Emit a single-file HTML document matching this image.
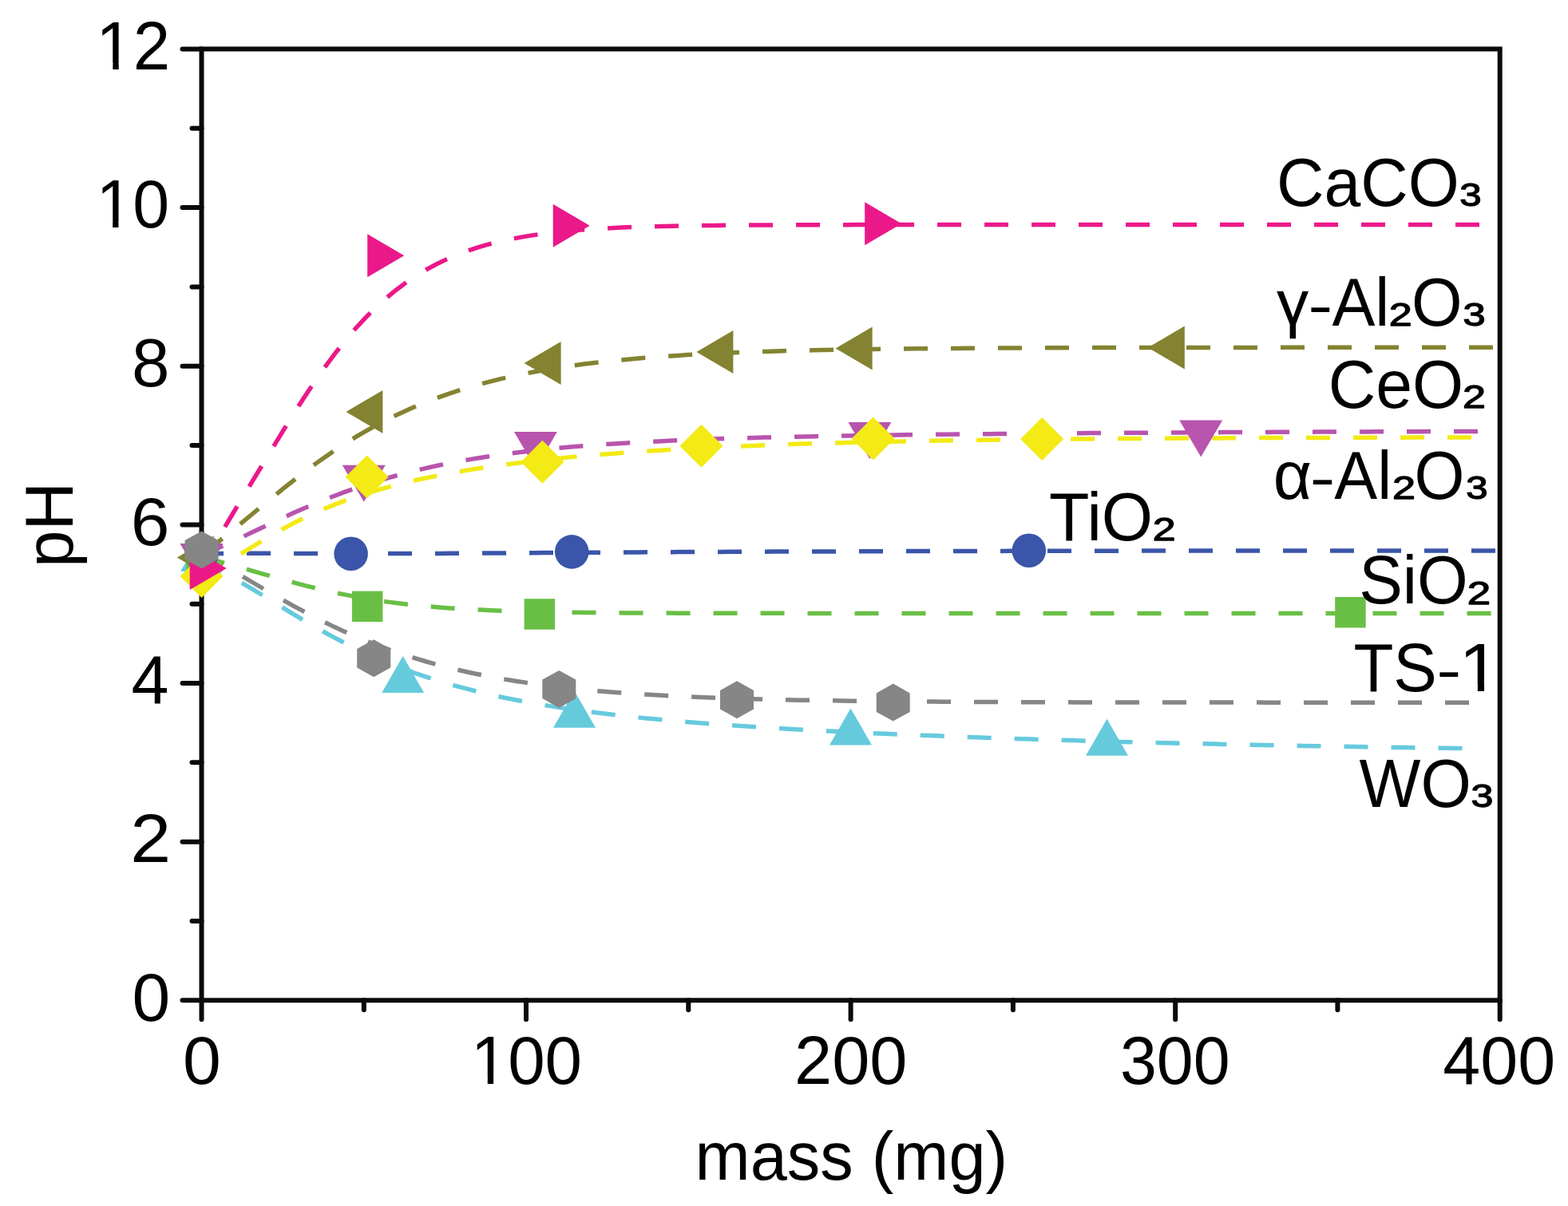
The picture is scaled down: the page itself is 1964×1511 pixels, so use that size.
<!DOCTYPE html><html><head><meta charset="utf-8"><title>pH vs mass</title><style>html,body{margin:0;padding:0;background:#fff;overflow:hidden}svg{display:block;filter:blur(0.7px)}</style></head><body>
<svg width="1964" height="1511" viewBox="0 0 1964 1511" font-family='"Liberation Sans", Arial, Helvetica, sans-serif'>
<rect width="1964" height="1511" fill="#fff"/>
<path d="M252.5,707.0 L265.2,711.4 L277.8,717.0 L290.5,723.4 L303.1,730.4 L315.8,737.8 L328.4,745.5 L341.1,753.3 L353.8,761.1 L366.4,768.8 L379.1,776.4 L391.7,783.8 L404.4,791.0 L417.0,797.9 L429.7,804.5 L442.4,810.8 L455.0,816.9 L467.7,822.6 L480.3,828.1 L493.0,833.2 L505.6,838.1 L518.3,842.8 L531.0,847.1 L543.6,851.2 L556.3,855.1 L568.9,858.8 L581.6,862.2 L594.2,865.5 L606.9,868.6 L619.6,871.4 L632.2,874.2 L644.9,876.7 L657.5,879.2 L670.2,881.4 L682.8,883.6 L695.5,885.6 L708.2,887.6 L720.8,889.4 L733.5,891.1 L746.1,892.8 L758.8,894.3 L771.4,895.8 L784.1,897.2 L796.8,898.6 L809.4,899.9 L822.1,901.1 L834.7,902.3 L847.4,903.4 L860.1,904.5 L872.7,905.5 L885.4,906.5 L898.0,907.4 L910.7,908.3 L923.3,909.2 L936.0,910.1 L948.7,910.9 L961.3,911.7 L974.0,912.5 L986.6,913.2 L999.3,913.9 L1011.9,914.6 L1024.6,915.3 L1037.3,916.0 L1049.9,916.6 L1062.6,917.2 L1075.2,917.8 L1087.9,918.4 L1100.5,919.0 L1113.2,919.5 L1125.9,920.1 L1138.5,920.6 L1151.2,921.1 L1163.8,921.6 L1176.5,922.1 L1189.1,922.6 L1201.8,923.1 L1214.5,923.5 L1227.1,924.0 L1239.8,924.4 L1252.4,924.9 L1265.1,925.3 L1277.7,925.7 L1290.4,926.1 L1303.1,926.5 L1315.7,926.9 L1328.4,927.3 L1341.0,927.6 L1353.7,928.0 L1366.3,928.4 L1379.0,928.7 L1391.7,929.0 L1404.3,929.4 L1417.0,929.7 L1429.6,930.0 L1442.3,930.4 L1454.9,930.7 L1467.6,931.0 L1480.3,931.3 L1492.9,931.6 L1505.6,931.8 L1518.2,932.1 L1530.9,932.4 L1543.5,932.7 L1556.2,932.9 L1568.9,933.2 L1581.5,933.5 L1594.2,933.7 L1606.8,934.0 L1619.5,934.2 L1632.1,934.4 L1644.8,934.7 L1657.5,934.9 L1670.1,935.1 L1682.8,935.3 L1695.4,935.6 L1708.1,935.8 L1720.7,936.0 L1733.4,936.2 L1746.1,936.4 L1758.7,936.6 L1771.4,936.8 L1784.0,937.0 L1796.7,937.1 L1809.3,937.3 L1822.0,937.5 L1831.5,937.6" fill="none" stroke="#66CADD" stroke-width="5.5" stroke-dasharray="30.0 29.0" stroke-dashoffset="3.42"/>
<path d="M252.5,692.2 L265.2,699.9 L278.0,707.2 L290.7,714.6 L303.4,722.0 L316.1,729.5 L328.9,737.0 L341.6,744.4 L354.3,751.7 L367.0,758.8 L379.8,765.7 L392.5,772.4 L405.2,778.9 L417.9,785.1 L430.7,791.0 L443.4,796.6 L456.1,802.0 L468.8,807.1 L481.6,811.9 L494.3,816.4 L507.0,820.7 L519.7,824.7 L532.5,828.5 L545.2,832.1 L557.9,835.4 L570.6,838.6 L583.4,841.5 L596.1,844.2 L608.8,846.8 L621.5,849.2 L634.3,851.4 L647.0,853.5 L659.7,855.4 L672.4,857.2 L685.2,858.9 L697.9,860.4 L710.6,861.9 L723.3,863.2 L736.1,864.5 L748.8,865.7 L761.5,866.7 L774.2,867.7 L787.0,868.7 L799.7,869.5 L812.4,870.3 L825.1,871.1 L837.9,871.7 L850.6,872.4 L863.3,873.0 L876.0,873.5 L888.8,874.0 L901.5,874.5 L914.2,874.9 L926.9,875.3 L939.7,875.7 L952.4,876.0 L965.1,876.4 L977.9,876.6 L990.6,876.9 L1003.3,877.2 L1016.0,877.4 L1028.8,877.6 L1041.5,877.8 L1054.2,878.0 L1066.9,878.2 L1079.7,878.3 L1092.4,878.5 L1105.1,878.6 L1117.8,878.7 L1130.6,878.8 L1143.3,879.0 L1156.0,879.0 L1168.7,879.1 L1181.5,879.2 L1194.2,879.3 L1206.9,879.4 L1219.6,879.4 L1232.4,879.5 L1245.1,879.6 L1257.8,879.6 L1270.5,879.7 L1283.3,879.7 L1296.0,879.7 L1308.7,879.8 L1321.4,879.8 L1334.2,879.8 L1346.9,879.9 L1359.6,879.9 L1372.3,879.9 L1385.1,879.9 L1397.8,880.0 L1410.5,880.0 L1423.2,880.0 L1436.0,880.0 L1448.7,880.0 L1461.4,880.1 L1474.1,880.1 L1486.9,880.1 L1499.6,880.1 L1512.3,880.1 L1525.0,880.1 L1537.8,880.1 L1550.5,880.1 L1563.2,880.1 L1575.9,880.1 L1588.7,880.2 L1601.4,880.2 L1614.1,880.2 L1626.8,880.2 L1639.6,880.2 L1652.3,880.2 L1665.0,880.2 L1677.8,880.2 L1690.5,880.2 L1703.2,880.2 L1715.9,880.2 L1728.7,880.2 L1741.4,880.2 L1754.1,880.2 L1766.8,880.2 L1779.6,880.2 L1792.3,880.2 L1805.0,880.2 L1817.7,880.2 L1830.5,880.2 L1840.0,880.2" fill="none" stroke="#868686" stroke-width="5.5" stroke-dasharray="30.0 29.0" stroke-dashoffset="58.21"/>
<path d="M252.5,696.9 L265.4,700.8 L278.4,704.6 L291.3,708.2 L304.3,711.9 L317.2,715.6 L330.2,719.3 L343.1,723.0 L356.1,726.6 L369.0,730.2 L382.0,733.6 L394.9,736.8 L407.9,739.9 L420.8,742.8 L433.7,745.4 L446.7,747.9 L459.6,750.2 L472.6,752.2 L485.5,754.1 L498.5,755.8 L511.4,757.3 L524.4,758.7 L537.3,759.9 L550.3,760.9 L563.2,761.9 L576.1,762.7 L589.1,763.5 L602.0,764.1 L615.0,764.7 L627.9,765.2 L640.9,765.6 L653.8,766.0 L666.8,766.3 L679.7,766.6 L692.7,766.9 L705.6,767.1 L718.6,767.3 L731.5,767.4 L744.4,767.6 L757.4,767.7 L770.3,767.8 L783.3,767.9 L796.2,768.0 L809.2,768.0 L822.1,768.1 L835.1,768.1 L848.0,768.2 L861.0,768.2 L873.9,768.2 L886.8,768.2 L899.8,768.3 L912.7,768.3 L925.7,768.3 L938.6,768.3 L951.6,768.3 L964.5,768.3 L977.5,768.3 L990.4,768.4 L1003.4,768.4 L1016.3,768.4 L1029.3,768.4 L1042.2,768.4 L1055.1,768.4 L1068.1,768.4 L1081.0,768.4 L1094.0,768.4 L1106.9,768.4 L1119.9,768.4 L1132.8,768.4 L1145.8,768.4 L1158.7,768.4 L1171.7,768.4 L1184.6,768.4 L1197.6,768.4 L1210.5,768.4 L1223.4,768.4 L1236.4,768.4 L1249.3,768.4 L1262.3,768.4 L1275.2,768.4 L1288.2,768.4 L1301.1,768.4 L1314.1,768.4 L1327.0,768.4 L1340.0,768.4 L1352.9,768.4 L1365.8,768.4 L1378.8,768.4 L1391.7,768.4 L1404.7,768.4 L1417.6,768.4 L1430.6,768.4 L1443.5,768.4 L1456.5,768.4 L1469.4,768.4 L1482.4,768.4 L1495.3,768.4 L1508.3,768.4 L1521.2,768.4 L1534.1,768.4 L1547.1,768.4 L1560.0,768.4 L1573.0,768.4 L1585.9,768.4 L1598.9,768.4 L1611.8,768.4 L1624.8,768.4 L1637.7,768.4 L1650.7,768.4 L1663.6,768.4 L1676.5,768.4 L1689.5,768.4 L1702.4,768.4 L1715.4,768.4 L1728.3,768.4 L1741.3,768.4 L1754.2,768.4 L1767.2,768.4 L1780.1,768.4 L1793.1,768.4 L1806.0,768.4 L1819.0,768.4 L1831.9,768.4 L1844.8,768.4 L1857.8,768.4 L1867.5,768.4" fill="none" stroke="#69BF45" stroke-width="5.5" stroke-dasharray="30.0 29.0" stroke-dashoffset="0.29"/>
<path d="M252.5,694.3 L265.5,693.8 L278.5,693.5 L291.5,693.4 L304.5,693.3 L317.4,693.2 L330.4,693.3 L343.4,693.3 L356.4,693.3 L369.4,693.4 L382.4,693.5 L395.4,693.5 L408.4,693.5 L421.4,693.6 L434.4,693.6 L447.3,693.6 L460.3,693.6 L473.3,693.6 L486.3,693.6 L499.3,693.5 L512.3,693.5 L525.3,693.5 L538.3,693.4 L551.3,693.4 L564.3,693.3 L577.2,693.2 L590.2,693.2 L603.2,693.1 L616.2,693.0 L629.2,692.9 L642.2,692.9 L655.2,692.8 L668.2,692.7 L681.2,692.6 L694.2,692.5 L707.1,692.5 L720.1,692.4 L733.1,692.3 L746.1,692.2 L759.1,692.1 L772.1,692.1 L785.1,692.0 L798.1,691.9 L811.1,691.8 L824.1,691.8 L837.0,691.7 L850.0,691.6 L863.0,691.6 L876.0,691.5 L889.0,691.5 L902.0,691.4 L915.0,691.3 L928.0,691.3 L941.0,691.2 L954.0,691.2 L966.9,691.1 L979.9,691.1 L992.9,691.0 L1005.9,691.0 L1018.9,690.9 L1031.9,690.9 L1044.9,690.9 L1057.9,690.8 L1070.9,690.8 L1083.9,690.7 L1096.8,690.7 L1109.8,690.7 L1122.8,690.6 L1135.8,690.6 L1148.8,690.6 L1161.8,690.5 L1174.8,690.5 L1187.8,690.5 L1200.8,690.5 L1213.8,690.4 L1226.7,690.4 L1239.7,690.4 L1252.7,690.4 L1265.7,690.3 L1278.7,690.3 L1291.7,690.3 L1304.7,690.3 L1317.7,690.3 L1330.7,690.2 L1343.7,690.2 L1356.6,690.2 L1369.6,690.2 L1382.6,690.2 L1395.6,690.2 L1408.6,690.2 L1421.6,690.1 L1434.6,690.1 L1447.6,690.1 L1460.6,690.1 L1473.6,690.1 L1486.5,690.1 L1499.5,690.1 L1512.5,690.1 L1525.5,690.1 L1538.5,690.0 L1551.5,690.0 L1564.5,690.0 L1577.5,690.0 L1590.5,690.0 L1603.5,690.0 L1616.4,690.0 L1629.4,690.0 L1642.4,690.0 L1655.4,690.0 L1668.4,690.0 L1681.4,690.0 L1694.4,690.0 L1707.4,690.0 L1720.4,690.0 L1733.4,689.9 L1746.3,689.9 L1759.3,689.9 L1772.3,689.9 L1785.3,689.9 L1798.3,689.9 L1811.3,689.9 L1824.3,689.9 L1837.3,689.9 L1850.3,689.9 L1863.3,689.9 L1873.0,689.9" fill="none" stroke="#3A55A9" stroke-width="5.5" stroke-dasharray="30.0 29.0" stroke-dashoffset="2.48"/>
<path d="M252.5,719.5 L265.2,714.4 L278.0,707.9 L290.7,700.6 L303.5,692.9 L316.2,685.0 L329.0,677.3 L341.7,669.8 L354.5,662.6 L367.2,655.8 L380.0,649.4 L392.7,643.4 L405.5,637.8 L418.2,632.6 L431.0,627.7 L443.7,623.2 L456.5,619.0 L469.2,615.1 L482.0,611.4 L494.7,608.0 L507.5,604.8 L520.2,601.8 L533.0,599.0 L545.7,596.4 L558.5,593.9 L571.2,591.6 L584.0,589.4 L596.7,587.3 L609.5,585.4 L622.2,583.6 L635.0,581.8 L647.7,580.2 L660.5,578.6 L673.2,577.1 L686.0,575.7 L698.7,574.4 L711.5,573.1 L724.2,571.9 L737.0,570.8 L749.7,569.7 L762.5,568.7 L775.2,567.7 L788.0,566.7 L800.7,565.9 L813.5,565.0 L826.2,564.2 L839.0,563.4 L851.7,562.7 L864.5,562.0 L877.2,561.3 L890.0,560.7 L902.7,560.1 L915.5,559.5 L928.2,559.0 L941.0,558.4 L953.7,557.9 L966.5,557.4 L979.2,557.0 L992.0,556.6 L1004.7,556.1 L1017.5,555.8 L1030.2,555.4 L1043.0,555.0 L1055.7,554.7 L1068.5,554.3 L1081.2,554.0 L1094.0,553.7 L1106.7,553.5 L1119.5,553.2 L1132.2,552.9 L1145.0,552.7 L1157.7,552.5 L1170.5,552.2 L1183.2,552.0 L1196.0,551.8 L1208.7,551.6 L1221.5,551.4 L1234.2,551.3 L1247.0,551.1 L1259.7,550.9 L1272.5,550.8 L1285.2,550.6 L1298.0,550.5 L1310.7,550.4 L1323.5,550.2 L1336.2,550.1 L1349.0,550.0 L1361.7,549.9 L1374.5,549.8 L1387.2,549.7 L1400.0,549.6 L1412.7,549.5 L1425.5,549.4 L1438.2,549.3 L1451.0,549.3 L1463.7,549.2 L1476.5,549.1 L1489.2,549.0 L1502.0,549.0 L1514.7,548.9 L1527.4,548.9 L1540.2,548.8 L1552.9,548.7 L1565.7,548.7 L1578.4,548.6 L1591.2,548.6 L1603.9,548.6 L1616.7,548.5 L1629.4,548.5 L1642.2,548.4 L1654.9,548.4 L1667.7,548.4 L1680.4,548.3 L1693.2,548.3 L1705.9,548.3 L1718.7,548.2 L1731.4,548.2 L1744.2,548.2 L1756.9,548.2 L1769.7,548.1 L1782.4,548.1 L1795.2,548.1 L1807.9,548.1 L1820.7,548.0 L1833.4,548.0 L1843.0,548.0" fill="none" stroke="#F3EA16" stroke-width="5.5" stroke-dasharray="30.0 29.0" stroke-dashoffset="3.25"/>
<path d="M252.5,694.7 L265.3,689.8 L278.1,684.4 L290.9,678.7 L303.8,672.7 L316.6,666.6 L329.4,660.5 L342.2,654.4 L355.0,648.5 L367.8,642.6 L380.6,637.0 L393.4,631.5 L406.3,626.2 L419.1,621.2 L431.9,616.4 L444.7,611.9 L457.5,607.5 L470.3,603.5 L483.1,599.6 L496.0,596.0 L508.8,592.6 L521.6,589.4 L534.4,586.4 L547.2,583.5 L560.0,580.9 L572.8,578.4 L585.7,576.1 L598.5,574.0 L611.3,572.0 L624.1,570.1 L636.9,568.4 L649.7,566.7 L662.5,565.2 L675.3,563.8 L688.2,562.5 L701.0,561.3 L713.8,560.1 L726.6,559.0 L739.4,558.0 L752.2,557.1 L765.0,556.2 L777.9,555.4 L790.7,554.7 L803.5,553.9 L816.3,553.3 L829.1,552.7 L841.9,552.1 L854.7,551.5 L867.6,551.0 L880.4,550.5 L893.2,550.1 L906.0,549.6 L918.8,549.2 L931.6,548.8 L944.4,548.5 L957.2,548.1 L970.1,547.8 L982.9,547.5 L995.7,547.2 L1008.5,547.0 L1021.3,546.7 L1034.1,546.4 L1046.9,546.2 L1059.8,546.0 L1072.6,545.8 L1085.4,545.6 L1098.2,545.4 L1111.0,545.2 L1123.8,545.0 L1136.6,544.8 L1149.5,544.7 L1162.3,544.5 L1175.1,544.3 L1187.9,544.2 L1200.7,544.1 L1213.5,543.9 L1226.3,543.8 L1239.1,543.7 L1252.0,543.5 L1264.8,543.4 L1277.6,543.3 L1290.4,543.2 L1303.2,543.1 L1316.0,543.0 L1328.8,542.9 L1341.7,542.8 L1354.5,542.7 L1367.3,542.6 L1380.1,542.5 L1392.9,542.4 L1405.7,542.3 L1418.5,542.2 L1431.4,542.2 L1444.2,542.1 L1457.0,542.0 L1469.8,541.9 L1482.6,541.9 L1495.4,541.8 L1508.2,541.7 L1521.0,541.7 L1533.9,541.6 L1546.7,541.5 L1559.5,541.5 L1572.3,541.4 L1585.1,541.4 L1597.9,541.3 L1610.7,541.3 L1623.6,541.2 L1636.4,541.2 L1649.2,541.1 L1662.0,541.1 L1674.8,541.0 L1687.6,541.0 L1700.4,540.9 L1713.3,540.9 L1726.1,540.8 L1738.9,540.8 L1751.7,540.7 L1764.5,540.7 L1777.3,540.7 L1790.1,540.6 L1802.9,540.6 L1815.8,540.6 L1828.6,540.5 L1841.4,540.5 L1851.0,540.5" fill="none" stroke="#B854AE" stroke-width="5.5" stroke-dasharray="30.0 29.0" stroke-dashoffset="1.25"/>
<path d="M252.5,698.5 L265.5,685.8 L278.4,674.9 L291.4,664.3 L304.4,653.7 L317.3,643.0 L330.3,632.2 L343.3,621.6 L356.2,611.0 L369.2,600.8 L382.2,590.8 L395.1,581.1 L408.1,571.9 L421.1,563.1 L434.0,554.6 L447.0,546.7 L460.0,539.1 L472.9,532.0 L485.9,525.2 L498.9,518.9 L511.8,513.0 L524.8,507.4 L537.8,502.2 L550.7,497.4 L563.7,492.8 L576.6,488.6 L589.6,484.7 L602.6,481.0 L615.5,477.6 L628.5,474.4 L641.5,471.5 L654.4,468.8 L667.4,466.2 L680.4,463.9 L693.3,461.7 L706.3,459.7 L719.3,457.8 L732.2,456.1 L745.2,454.5 L758.2,453.0 L771.1,451.7 L784.1,450.4 L797.1,449.2 L810.0,448.2 L823.0,447.2 L836.0,446.3 L848.9,445.4 L861.9,444.6 L874.9,443.9 L887.8,443.2 L900.8,442.6 L913.8,442.0 L926.7,441.5 L939.7,441.0 L952.7,440.6 L965.6,440.2 L978.6,439.8 L991.6,439.4 L1004.5,439.1 L1017.5,438.8 L1030.5,438.5 L1043.4,438.3 L1056.4,438.0 L1069.4,437.8 L1082.3,437.6 L1095.3,437.4 L1108.3,437.3 L1121.2,437.1 L1134.2,437.0 L1147.1,436.8 L1160.1,436.7 L1173.1,436.6 L1186.0,436.5 L1199.0,436.4 L1212.0,436.3 L1224.9,436.2 L1237.9,436.1 L1250.9,436.1 L1263.8,436.0 L1276.8,435.9 L1289.8,435.9 L1302.7,435.8 L1315.7,435.8 L1328.7,435.8 L1341.6,435.7 L1354.6,435.7 L1367.6,435.6 L1380.5,435.6 L1393.5,435.6 L1406.5,435.6 L1419.4,435.5 L1432.4,435.5 L1445.4,435.5 L1458.3,435.5 L1471.3,435.5 L1484.3,435.4 L1497.2,435.4 L1510.2,435.4 L1523.2,435.4 L1536.1,435.4 L1549.1,435.4 L1562.1,435.4 L1575.0,435.4 L1588.0,435.3 L1601.0,435.3 L1613.9,435.3 L1626.9,435.3 L1639.9,435.3 L1652.8,435.3 L1665.8,435.3 L1678.8,435.3 L1691.7,435.3 L1704.7,435.3 L1717.7,435.3 L1730.6,435.3 L1743.6,435.3 L1756.5,435.3 L1769.5,435.3 L1782.5,435.3 L1795.4,435.3 L1808.4,435.3 L1821.4,435.3 L1834.3,435.3 L1847.3,435.3 L1860.3,435.3 L1870.0,435.3" fill="none" stroke="#838331" stroke-width="5.5" stroke-dasharray="30.0 29.0" stroke-dashoffset="53.92"/>
<path d="M252.5,715.7 L265.3,689.4 L278.2,666.2 L291.0,644.5 L303.8,623.4 L316.6,602.2 L329.5,581.0 L342.3,559.9 L355.1,538.9 L368.0,518.2 L380.8,498.2 L393.6,479.0 L406.5,460.6 L419.3,443.3 L432.1,427.1 L444.9,412.0 L457.8,398.1 L470.6,385.4 L483.4,373.7 L496.3,363.2 L509.1,353.6 L521.9,345.0 L534.8,337.3 L547.6,330.5 L560.4,324.4 L573.2,319.0 L586.1,314.2 L598.9,309.9 L611.7,306.2 L624.6,303.0 L637.4,300.1 L650.2,297.6 L663.0,295.4 L675.9,293.5 L688.7,291.9 L701.5,290.4 L714.4,289.2 L727.2,288.1 L740.0,287.2 L752.9,286.4 L765.7,285.7 L778.5,285.1 L791.3,284.6 L804.2,284.2 L817.0,283.8 L829.8,283.5 L842.7,283.2 L855.5,282.9 L868.3,282.7 L881.2,282.6 L894.0,282.4 L906.8,282.3 L919.6,282.2 L932.5,282.1 L945.3,282.0 L958.1,281.9 L971.0,281.9 L983.8,281.8 L996.6,281.8 L1009.4,281.8 L1022.3,281.7 L1035.1,281.7 L1047.9,281.7 L1060.8,281.7 L1073.6,281.6 L1086.4,281.6 L1099.3,281.6 L1112.1,281.6 L1124.9,281.6 L1137.7,281.6 L1150.6,281.6 L1163.4,281.6 L1176.2,281.6 L1189.1,281.6 L1201.9,281.6 L1214.7,281.6 L1227.6,281.6 L1240.4,281.6 L1253.2,281.6 L1266.0,281.6 L1278.9,281.6 L1291.7,281.6 L1304.5,281.6 L1317.4,281.6 L1330.2,281.6 L1343.0,281.6 L1355.9,281.6 L1368.7,281.6 L1381.5,281.6 L1394.3,281.6 L1407.2,281.6 L1420.0,281.6 L1432.8,281.6 L1445.7,281.6 L1458.5,281.6 L1471.3,281.6 L1484.1,281.6 L1497.0,281.6 L1509.8,281.6 L1522.6,281.6 L1535.5,281.6 L1548.3,281.6 L1561.1,281.6 L1574.0,281.6 L1586.8,281.6 L1599.6,281.6 L1612.4,281.6 L1625.3,281.6 L1638.1,281.6 L1650.9,281.6 L1663.8,281.6 L1676.6,281.6 L1689.4,281.6 L1702.3,281.6 L1715.1,281.6 L1727.9,281.6 L1740.7,281.6 L1753.6,281.6 L1766.4,281.6 L1779.2,281.6 L1792.1,281.6 L1804.9,281.6 L1817.7,281.6 L1830.5,281.6 L1843.4,281.6 L1853.0,281.6" fill="none" stroke="#EB1889" stroke-width="5.5" stroke-dasharray="30.0 29.0" stroke-dashoffset="55.24"/>
<g stroke="#0a0a0a" stroke-width="6.0" stroke-linecap="round" fill="none">
<rect x="252.5" y="61.4" width="1626.2" height="1191.9" stroke-linejoin="miter"/>
<line x1="252.5" y1="1253.3" x2="228.5" y2="1253.3"/>
<line x1="252.5" y1="1154.0" x2="240.5" y2="1154.0"/>
<line x1="252.5" y1="1054.7" x2="228.5" y2="1054.7"/>
<line x1="252.5" y1="955.3" x2="240.5" y2="955.3"/>
<line x1="252.5" y1="856.0" x2="228.5" y2="856.0"/>
<line x1="252.5" y1="756.7" x2="240.5" y2="756.7"/>
<line x1="252.5" y1="657.4" x2="228.5" y2="657.4"/>
<line x1="252.5" y1="558.0" x2="240.5" y2="558.0"/>
<line x1="252.5" y1="458.7" x2="228.5" y2="458.7"/>
<line x1="252.5" y1="359.4" x2="240.5" y2="359.4"/>
<line x1="252.5" y1="260.1" x2="228.5" y2="260.1"/>
<line x1="252.5" y1="160.7" x2="240.5" y2="160.7"/>
<line x1="252.5" y1="61.4" x2="228.5" y2="61.4"/>
<line x1="252.5" y1="1253.3" x2="252.5" y2="1277.3"/>
<line x1="455.8" y1="1253.3" x2="455.8" y2="1265.3"/>
<line x1="659.0" y1="1253.3" x2="659.0" y2="1277.3"/>
<line x1="862.3" y1="1253.3" x2="862.3" y2="1265.3"/>
<line x1="1065.6" y1="1253.3" x2="1065.6" y2="1277.3"/>
<line x1="1268.9" y1="1253.3" x2="1268.9" y2="1265.3"/>
<line x1="1472.2" y1="1253.3" x2="1472.2" y2="1277.3"/>
<line x1="1675.4" y1="1253.3" x2="1675.4" y2="1265.3"/>
<line x1="1878.7" y1="1253.3" x2="1878.7" y2="1277.3"/>
</g>
<polygon points="226.0,716.0 279.0,716.0 252.5,670.0" fill="#66CADD"/>
<polygon points="478.2,867.9 531.2,867.9 504.7,821.9" fill="#66CADD"/>
<polygon points="693.0,911.8 746.0,911.8 719.5,865.8" fill="#66CADD"/>
<polygon points="1039.0,933.4 1092.0,933.4 1065.5,887.4" fill="#66CADD"/>
<polygon points="1360.0,946.7 1413.0,946.7 1386.5,900.7" fill="#66CADD"/>
<rect x="233.2" y="677.8" width="38.5" height="38.5" fill="#69BF45"/>
<rect x="440.9" y="740.6" width="38.5" height="38.5" fill="#69BF45"/>
<rect x="656.6" y="750.2" width="38.5" height="38.5" fill="#69BF45"/>
<rect x="1672.2" y="748.0" width="38.5" height="38.5" fill="#69BF45"/>
<circle cx="252.5" cy="694" r="21.3" fill="#3A55A9"/>
<circle cx="439.6" cy="693.8" r="21.3" fill="#3A55A9"/>
<circle cx="716.2" cy="691.4" r="21.3" fill="#3A55A9"/>
<circle cx="1288.8" cy="689.8" r="21.3" fill="#3A55A9"/>
<polygon points="225.5,681.0 279.5,681.0 252.5,727.0" fill="#B854AE"/>
<polygon points="428.8,582.8 482.8,582.8 455.8,628.8" fill="#B854AE"/>
<polygon points="643.9,540.9 697.9,540.9 670.9,586.9" fill="#B854AE"/>
<polygon points="1062.4,529.0 1116.4,529.0 1089.4,575.0" fill="#B854AE"/>
<polygon points="1477.2,526.6 1531.2,526.6 1504.2,572.6" fill="#B854AE"/>
<polygon points="267.8,671.5 221.8,698.5 267.8,725.5" fill="#838331"/>
<polygon points="479.4,488.9 433.4,515.9 479.4,542.9" fill="#838331"/>
<polygon points="702.6,427.9 656.6,454.9 702.6,481.9" fill="#838331"/>
<polygon points="918.4,414.0 872.4,441.0 918.4,468.0" fill="#838331"/>
<polygon points="1092.6,409.4 1046.6,436.4 1092.6,463.4" fill="#838331"/>
<polygon points="1483.8,408.5 1437.8,435.5 1483.8,462.5" fill="#838331"/>
<polygon points="252.5,695.0 279.5,722.0 252.5,749.0 225.5,722.0" fill="#F3EA16"/>
<polygon points="459.6,570.6 486.6,597.6 459.6,624.6 432.6,597.6" fill="#F3EA16"/>
<polygon points="679.4,551.8 706.4,578.8 679.4,605.8 652.4,578.8" fill="#F3EA16"/>
<polygon points="878.5,531.8 905.5,558.8 878.5,585.8 851.5,558.8" fill="#F3EA16"/>
<polygon points="1093.7,522.6 1120.7,549.6 1093.7,576.6 1066.7,549.6" fill="#F3EA16"/>
<polygon points="1305.2,523.0 1332.2,550.0 1305.2,577.0 1278.2,550.0" fill="#F3EA16"/>
<polygon points="237.7,685.0 283.7,712.0 237.7,739.0" fill="#EB1889"/>
<polygon points="460.2,293.2 506.2,320.2 460.2,347.2" fill="#EB1889"/>
<polygon points="692.7,255.8 738.7,282.8 692.7,309.8" fill="#EB1889"/>
<polygon points="1083.2,253.3 1129.2,280.3 1083.2,307.3" fill="#EB1889"/>
<polygon points="252.5,665.4 273.5,677.1 273.5,700.6 252.5,712.4 231.5,700.6 231.5,677.1" fill="#868686"/>
<polygon points="468.2,801.3 489.2,813.0 489.2,836.5 468.2,848.3 447.2,836.5 447.2,813.0" fill="#868686"/>
<polygon points="700.3,839.9 721.3,851.6 721.3,875.1 700.3,886.9 679.3,875.1 679.3,851.6" fill="#868686"/>
<polygon points="923.0,853.2 944.0,865.0 944.0,888.5 923.0,900.2 902.0,888.5 902.0,865.0" fill="#868686"/>
<polygon points="1118.7,856.6 1139.7,868.4 1139.7,891.9 1118.7,903.6 1097.7,891.9 1097.7,868.4" fill="#868686"/>
<defs>
<clipPath id="c22"><path d="M0,0H1964V1511H0ZM1831.46,857.50H1850.84V867.50H1831.46ZM1859.09,857.50H1877.96V867.50H1859.09Z" clip-rule="evenodd"/></clipPath>
<clipPath id="c30"><path d="M0,0H1964V1511H0ZM124.04,277.31H141.15V287.30H124.04ZM148.44,277.31H165.10V287.30H148.44Z" clip-rule="evenodd"/></clipPath>
<clipPath id="c31"><path d="M0,0H1964V1511H0ZM124.02,78.65H141.32V88.64H124.02ZM148.70,78.65H165.56V88.64H148.70Z" clip-rule="evenodd"/></clipPath>
<clipPath id="c33"><path d="M0,0H1964V1511H0ZM593.41,1349.81H610.74V1359.80H593.41ZM618.13,1349.81H635.01V1359.80H618.13Z" clip-rule="evenodd"/></clipPath>
</defs>
<g fill="#000">
<text x="1598.96" y="258.20" font-size="85.7" textLength="228.76" lengthAdjust="spacingAndGlyphs">CaCO</text>
<text x="1828.29" y="258.40" font-size="40.5" stroke="#000" stroke-width="1.3" stroke-linejoin="round" textLength="27.38" lengthAdjust="spacingAndGlyphs">3</text>
<text x="1598.12" y="408.20" font-size="85.7" font-family='"WenQuanYi Zen Hei", "Liberation Sans", sans-serif' textLength="42.75" lengthAdjust="spacingAndGlyphs">γ</text>
<text x="1638.30" y="406.80" font-size="72" textLength="31.18" lengthAdjust="spacingAndGlyphs">-</text>
<text x="1668.40" y="408.20" font-size="85.7" textLength="71.91" lengthAdjust="spacingAndGlyphs">Al</text>
<text x="1739.81" y="408.20" font-size="40.5" stroke="#000" stroke-width="1.3" stroke-linejoin="round" textLength="28.95" lengthAdjust="spacingAndGlyphs">2</text>
<text x="1767.98" y="408.20" font-size="85.7" textLength="63.61" lengthAdjust="spacingAndGlyphs">O</text>
<text x="1832.55" y="408.20" font-size="40.5" stroke="#000" stroke-width="1.3" stroke-linejoin="round" textLength="28.16" lengthAdjust="spacingAndGlyphs">3</text>
<text x="1663.75" y="510.50" font-size="85.7" textLength="169.48" lengthAdjust="spacingAndGlyphs">CeO</text>
<text x="1832.01" y="510.80" font-size="40.5" stroke="#000" stroke-width="1.3" stroke-linejoin="round" textLength="28.95" lengthAdjust="spacingAndGlyphs">2</text>
<text x="1594.69" y="624.60" font-size="85.7" textLength="48.39" lengthAdjust="spacingAndGlyphs">α</text>
<text x="1640.60" y="623.20" font-size="72" textLength="31.98" lengthAdjust="spacingAndGlyphs">-</text>
<text x="1671.30" y="624.60" font-size="85.7" textLength="71.91" lengthAdjust="spacingAndGlyphs">Al</text>
<text x="1744.12" y="624.60" font-size="40.5" stroke="#000" stroke-width="1.3" stroke-linejoin="round" textLength="28.95" lengthAdjust="spacingAndGlyphs">2</text>
<text x="1771.52" y="624.60" font-size="85.7" textLength="62.93" lengthAdjust="spacingAndGlyphs">O</text>
<text x="1836.19" y="624.60" font-size="40.5" stroke="#000" stroke-width="1.3" stroke-linejoin="round" textLength="27.26" lengthAdjust="spacingAndGlyphs">3</text>
<text x="1314.07" y="677.20" font-size="85.7" textLength="129.95" lengthAdjust="spacingAndGlyphs">TiO</text>
<text x="1443.82" y="677.20" font-size="40.5" stroke="#000" stroke-width="1.3" stroke-linejoin="round" textLength="28.84" lengthAdjust="spacingAndGlyphs">2</text>
<text x="1702.17" y="756.30" font-size="85.7" textLength="136.60" lengthAdjust="spacingAndGlyphs">SiO</text>
<text x="1837.69" y="757.00" font-size="40.5" stroke="#000" stroke-width="1.3" stroke-linejoin="round" textLength="29.40" lengthAdjust="spacingAndGlyphs">2</text>
<text x="1695.39" y="865.50" font-size="85.7" textLength="104.50" lengthAdjust="spacingAndGlyphs">TS</text>
<text x="1799.30" y="864.10" font-size="72" textLength="31.18" lengthAdjust="spacingAndGlyphs">-</text>
<text clip-path="url(#c22)" x="1827.36" y="865.50" font-size="85.7" textLength="51.92" lengthAdjust="spacingAndGlyphs">1</text>
<text x="1702.60" y="1011.20" font-size="85.7" textLength="140.26" lengthAdjust="spacingAndGlyphs">WO</text>
<text x="1842.57" y="1011.20" font-size="40.5" stroke="#000" stroke-width="1.3" stroke-linejoin="round" textLength="27.83" lengthAdjust="spacingAndGlyphs">3</text>
<text x="165.49" y="1278.60" font-size="85.5" textLength="47.68" lengthAdjust="spacingAndGlyphs">0</text>
<text x="163.22" y="1079.94" font-size="85.5" textLength="50.86" lengthAdjust="spacingAndGlyphs">2</text>
<text x="164.43" y="881.28" font-size="85.5" textLength="46.90" lengthAdjust="spacingAndGlyphs">4</text>
<text x="163.81" y="682.62" font-size="85.5" textLength="48.63" lengthAdjust="spacingAndGlyphs">6</text>
<text x="164.91" y="483.96" font-size="85.5" textLength="47.44" lengthAdjust="spacingAndGlyphs">8</text>
<text clip-path="url(#c30)" x="120.42" y="285.30" font-size="85.5" textLength="91.68" lengthAdjust="spacingAndGlyphs">10</text>
<text clip-path="url(#c31)" x="120.35" y="86.64" font-size="85.5" textLength="92.76" lengthAdjust="spacingAndGlyphs">12</text>
<text x="229.09" y="1357.80" font-size="85.5" textLength="47.79" lengthAdjust="spacingAndGlyphs">0</text>
<text clip-path="url(#c33)" x="589.74" y="1357.80" font-size="85.5" textLength="139.33" lengthAdjust="spacingAndGlyphs">100</text>
<text x="995.04" y="1357.80" font-size="85.5" textLength="141.39" lengthAdjust="spacingAndGlyphs">200</text>
<text x="1403.01" y="1357.80" font-size="85.5" textLength="137.62" lengthAdjust="spacingAndGlyphs">300</text>
<text x="1807.22" y="1357.80" font-size="85.5" textLength="140.89" lengthAdjust="spacingAndGlyphs">400</text>
<text x="870.59" y="1478.30" font-size="85.7" textLength="391.56" lengthAdjust="spacingAndGlyphs">mass (mg)</text>
<text transform="translate(90.60,710.96) rotate(-90)" x="0" y="0" font-size="85.7" textLength="107.06" lengthAdjust="spacingAndGlyphs">pH</text>
</g>
</svg></body></html>
